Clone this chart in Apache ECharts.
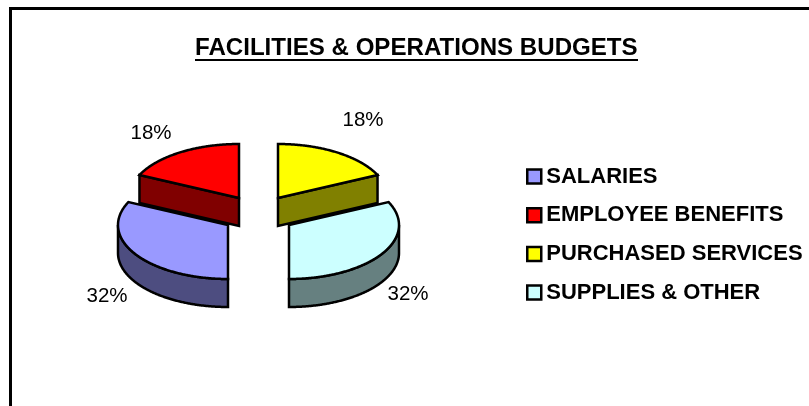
<!DOCTYPE html>
<html>
<head>
<meta charset="utf-8">
<style>html,body{margin:0;padding:0;background:#fff}#c{width:809px;height:406px}</style>
<script src="https://cdn.jsdelivr.net/npm/echarts@6/dist/echarts.min.js"></script>
</head>
<body>
<div id="c"></div>
<script>
var categories = ['SALARIES', 'EMPLOYEE BENEFITS', 'PURCHASED SERVICES', 'SUPPLIES & OTHER'];
var values = [32, 18, 18, 32];
var topColors = ['#9999FF', '#FF0000', '#FFFF00', '#CCFFFF'];
var sideColors = ['#4D4D80', '#800000', '#808000', '#668080'];
var titleText = 'FACILITIES & OPERATIONS BUDGETS';

// layout of the tilted, exploded pie
var RX = 110, RY = 54, DEPTH = 28, START = 180;
var centers = [[228, 225], [239, 198], [278, 198], [289, 225]];
var labelPos = [[107, 296.5], [151, 133], [363, 120.5], [408, 294.5]];

var total = values.reduce(function (a, b) { return a + b; }, 0);
function startAngle(i) {
  var s = 0;
  for (var k = 0; k < i; k++) s += values[k];
  return (START + s / total * 360) % 360;
}
function pt(c, deg, dz) {
  var r = deg * Math.PI / 180;
  return [c[0] + RX * Math.sin(r), c[1] - RY * Math.cos(r) + (dz || 0)];
}
function arc(c, a, b, dz) {
  var out = [], n = Math.max(2, Math.ceil(Math.abs(b - a) * 2));
  for (var i = 0; i <= n; i++) out.push(pt(c, a + (b - a) * i / n, dz));
  return out;
}
function renderSlice(i, api) {
  var v = api.value(0);
  var a0 = startAngle(i), a1 = a0 + v / total * 360;
  var c = centers[i], kids = [];
  var line = { stroke: '#000', lineWidth: 2.5, lineJoin: 'miter', miterLimit: 4 };
  function face(points, fill) {
    kids.push({ type: 'polygon', shape: { points: points },
      style: Object.assign({ fill: fill }, line) });
  }
  // outer rim wall: the part of the rim that faces the viewer (90..270 degrees)
  var ra = Math.max(a0, 90), rb = Math.min(a1, 270);
  if (rb > ra) {
    var rim = arc(c, ra, rb, 0).concat(arc(c, rb, ra, DEPTH));
    face(rim, sideColors[i]);
  }
  // flat cut wall that faces the viewer (back slices)
  if (i === 1) {
    var p = pt(c, a0);
    face([p, c, [c[0], c[1] + DEPTH], [p[0], p[1] + DEPTH]], sideColors[i]);
  }
  if (i === 2) {
    var q = pt(c, a1);
    face([c, q, [q[0], q[1] + DEPTH], [c[0], c[1] + DEPTH]], sideColors[i]);
  }
  // top face
  face([c].concat(arc(c, a0, a1, 0)), topColors[i]);
  // percent label
  kids.push({ type: 'text', style: {
    x: labelPos[i][0], y: labelPos[i][1],
    text: Math.round(v / total * 100) + '%',
    fill: '#000', font: '20.5px "Liberation Sans", Arial, sans-serif',
    align: 'center', verticalAlign: 'middle'
  }});
  return { type: 'group', children: kids };
}

var drawOrder = [1, 2, 0, 3];
var series = drawOrder.map(function (i, order) {
  return {
    type: 'custom',
    name: categories[i],
    coordinateSystem: 'none',
    silent: true,
    animation: false,
    z: order + 2,
    itemStyle: { color: topColors[i] },
    data: [[values[i]]],
    renderItem: function (params, api) { return renderSlice(i, api); }
  };
});

var chart = echarts.init(document.getElementById('c'), null, { renderer: 'canvas' });
chart.setOption({
  animation: false,
  backgroundColor: '#fff',
  title: {
    text: titleText,
    left: 195, top: 36, padding: 0,
    textStyle: { fontFamily: '"Liberation Sans", Arial, sans-serif', fontWeight: 'bold', fontSize: 24.1, color: '#000' }
  },
  legend: {
    orient: 'vertical',
    left: 526, top: 165.5,
    padding: 0,
    itemWidth: 14, itemHeight: 14,
    itemGap: 16.7,
    icon: 'rect',
    selectedMode: false,
    data: categories.map(function (n, i) {
      return { name: n, icon: 'rect', itemStyle: { color: topColors[i], borderColor: '#000', borderWidth: 2.5 } };
    }),
    textStyle: { fontFamily: '"Liberation Sans", Arial, sans-serif', fontWeight: 'bold', fontSize: 22, color: '#000' }
  },
  graphic: [
    { type: 'line', silent: true, shape: { x1: 10.5, y1: 406, x2: 10.5, y2: 8.5 }, style: { stroke: '#000', lineWidth: 3 } },
    { type: 'line', silent: true, shape: { x1: 9, y1: 8.5, x2: 809, y2: 8.5 }, style: { stroke: '#000', lineWidth: 3 } },
    { type: 'line', silent: true, shape: { x1: 195, y1: 60, x2: 638, y2: 60 }, style: { stroke: '#000', lineWidth: 2 } }
  ],
  series: series
});
</script>
</body>
</html>
